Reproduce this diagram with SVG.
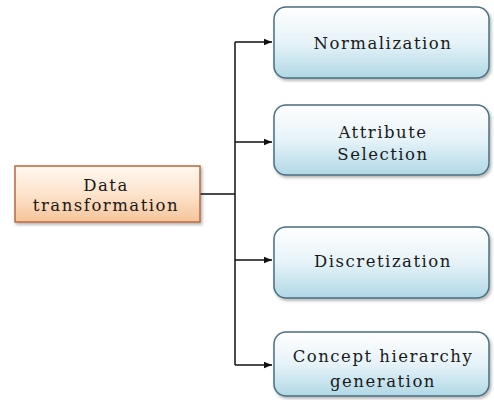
<svg xmlns="http://www.w3.org/2000/svg" width="494" height="400" viewBox="0 0 494 400">
<defs>
<linearGradient id="gb" x1="0" y1="0" x2="0" y2="1"><stop offset="0" stop-color="#ffffff"/><stop offset="0.5" stop-color="#e6f3f8"/><stop offset="1" stop-color="#b0d8e6"/></linearGradient>
<linearGradient id="go" x1="0" y1="0" x2="0" y2="1"><stop offset="0" stop-color="#fff8f0"/><stop offset="0.5" stop-color="#fde3cc"/><stop offset="1" stop-color="#f6c49a"/></linearGradient>
<marker id="ar" viewBox="0 0 10 10" refX="10" refY="5" markerWidth="8" markerHeight="8" markerUnits="userSpaceOnUse" orient="auto"><path d="M0,1 L10,5 L0,9 z" fill="#111"/></marker>
<filter id="sh" x="-10%" y="-10%" width="130%" height="140%"><feDropShadow dx="1.5" dy="2" stdDeviation="1.5" flood-color="#000" flood-opacity="0.3"/></filter>
</defs>
<style>
.b{fill:url(#gb);stroke:#4a6f80;stroke-width:1.5;filter:url(#sh)}
.o{fill:url(#go);stroke:#b86a3c;stroke-width:1.5;filter:url(#sh)}
.t{font-family:"DejaVu Serif","Liberation Serif",serif;font-size:16.5px;letter-spacing:1.5px;fill:#1a1a1a;text-anchor:middle}
.c{stroke:#111;stroke-width:1.5;fill:none}
</style>
<g id="connectors">
<path class="c" d="M200,194 H235"/>
<path class="c" d="M235,42 V365"/>
<path class="c" d="M235,42 H272" marker-end="url(#ar)"/>
<path class="c" d="M235,142 H272" marker-end="url(#ar)"/>
<path class="c" d="M235,260 H272" marker-end="url(#ar)"/>
<path class="c" d="M235,365 H272" marker-end="url(#ar)"/>
</g>
<g id="data-transformation">
<rect class="o" x="15" y="166" width="185" height="56"/>
<text class="t" x="106" y="191">Data</text>
<text class="t" x="106" y="211">transformation</text>
</g>
<g id="normalization">
<rect class="b" x="274" y="7" width="215" height="71" rx="12"/>
<text class="t" x="383" y="49">Normalization</text>
</g>
<g id="attribute-selection">
<rect class="b" x="274" y="105" width="215" height="70" rx="12"/>
<text class="t" x="383" y="138">Attribute</text>
<text class="t" x="383" y="160">Selection</text>
</g>
<g id="discretization">
<rect class="b" x="274" y="227" width="215" height="71" rx="12"/>
<text class="t" x="383" y="267">Discretization</text>
</g>
<g id="concept-hierarchy">
<rect class="b" x="274" y="332" width="215" height="64" rx="12"/>
<text class="t" x="383" y="362">Concept hierarchy</text>
<text class="t" x="383" y="387">generation</text>
</g>
</svg>
